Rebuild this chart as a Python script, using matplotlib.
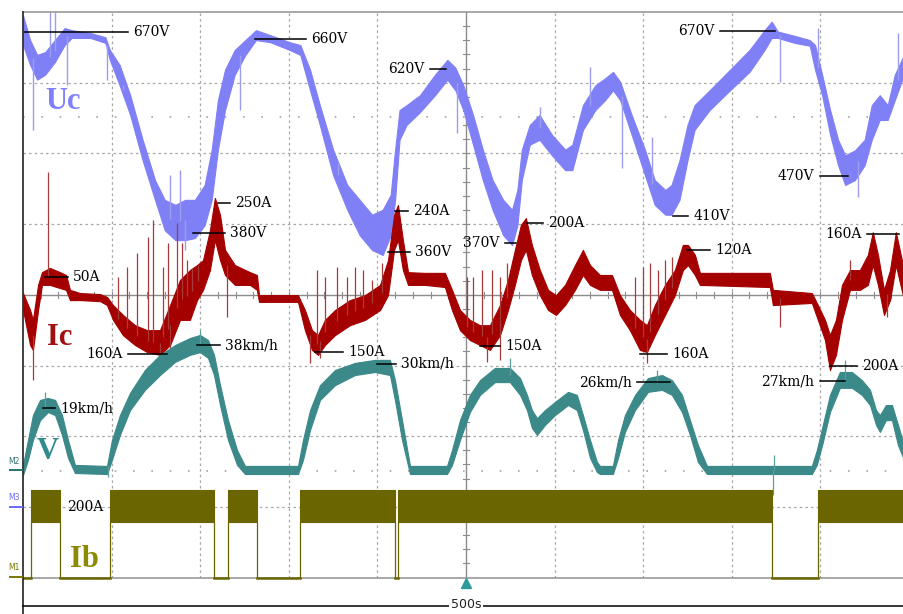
import numpy as np
import matplotlib.pyplot as plt
from matplotlib.lines import Line2D

# time base: 500 s/div
# Uc (V): band top / bottom
t_uc = [0, 40, 80, 125, 180, 235, 275, 380, 465, 490, 545, 605, 675, 745, 800, 860, 915, 970, 1025, 1065,
        1100, 1140, 1195, 1255, 1315, 1395, 1505, 1565, 1620, 1675, 1750, 1830, 1900, 1970, 2030, 2075, 2100, 2125, 2165, 2240,
        2325, 2395, 2440, 2485, 2540, 2595, 2650, 2710, 2760, 2790, 2815, 2860, 2915, 2985, 3060, 3100, 3160, 3230, 3285, 3330,
        3370, 3435, 3510, 3565, 3625, 3660, 3705, 3750, 3790, 3875, 3990, 4100, 4185, 4225, 4260, 4355, 4440, 4470, 4510, 4555,
        4600, 4640, 4695, 4750, 4790, 4835, 4880, 4920, 4972]
uc_hi = [694, 659, 638, 642, 659, 676, 673, 669, 663, 645, 624, 581, 518, 461, 433, 426, 433, 433, 454, 504,
         574, 617, 645, 659, 673, 666, 656, 652, 617, 567, 504, 454, 433, 412, 419, 440, 504, 560, 567, 581,
         610, 631, 620, 595, 553, 504, 461, 433, 419, 447, 504, 539, 553, 525, 504, 511, 567, 595, 605, 614,
         600, 553, 504, 461, 447, 454, 489, 539, 567, 588, 617, 645, 673, 685, 671, 665, 659, 652, 610, 560,
         518, 496, 503, 518, 567, 581, 567, 610, 638]
uc_lo = [652, 624, 603, 610, 628, 652, 662, 662, 655, 631, 595, 553, 489, 433, 390, 376, 376, 379, 397, 433,
         504, 560, 610, 638, 659, 656, 645, 638, 588, 539, 468, 419, 383, 362, 355, 383, 433, 518, 539, 557,
         581, 603, 588, 560, 511, 461, 419, 383, 369, 397, 461, 511, 518, 496, 475, 475, 532, 560, 574, 588,
         574, 525, 468, 426, 412, 412, 433, 489, 532, 560, 588, 614, 645, 662, 662, 655, 651, 617, 581, 525,
         482, 454, 461, 482, 518, 546, 546, 574, 610]
uc_spike_t = [56, 152, 181, 248, 474, 564, 830, 914, 886, 1225, 1778, 2449, 2917, 3200, 3380, 3550, 4272, 4486, 4712, 4938]
uc_spike_v = [532, 699, 699, 595, 603, 588, 468, 362, 475, 560, 485, 528, 564, 621, 478, 522, 600, 676, 437, 669]

# Ic (A)
t_ic = [0, 40, 56, 85, 107, 152, 209, 243, 265, 322, 435, 474, 508, 564, 632, 700, 773, 830, 886, 942,
        982, 1016, 1055, 1083, 1112, 1140, 1196, 1281, 1320, 1332, 1552, 1591, 1631, 1665, 1704, 1761, 1845, 1930, 2015, 2060,
        2094, 2116, 2144, 2173, 2269, 2381, 2421, 2466, 2522, 2579, 2635, 2692, 2737, 2776, 2810, 2838, 2872, 2917, 2963, 3008,
        3059, 3115, 3160, 3200, 3256, 3324, 3369, 3425, 3482, 3521, 3566, 3623, 3679, 3724, 3753, 3792, 3820, 4215, 4232, 4452,
        4486, 4526, 4554, 4588, 4622, 4667, 4723, 4768, 4796, 4825, 4859, 4893, 4926, 4972]
ic_hi = [13, -35, -63, 36, 72, 84, 72, 64, 22, 13, 10, 2, -21, -49, -78, -92, -92, -21, 50, 78,
         92, 106, 191, 282, 234, 135, 92, 72, 64, 7, 7, -35, -92, -106, -63, -35, -7, 7, 36, 106,
         234, 262, 163, 72, 70, 70, 22, -35, -63, -78, -78, -21, 50, 135, 206, 225, 149, 78, 22, 7,
         36, 92, 135, 92, 64, 64, 7, -35, -63, -78, -21, 36, 78, 149, 149, 121, 70, 70, 22, 13,
         -21, -63, -106, -63, 36, 78, 78, 121, 185, 121, 22, 78, 185, 78]
ic_lo = [-35, -134, -148, -35, 36, 36, 27, 22, -7, -7, -10, -21, -63, -106, -134, -154, -162, -134, -63, -63,
         -7, 22, 78, 163, 106, 64, 36, 36, 22, -12, -12, -92, -148, -162, -134, -106, -78, -63, -35, 7,
         135, 163, 78, 36, 36, 30, -35, -92, -120, -134, -148, -106, -35, 36, 106, 135, 64, 7, -35, -49,
         -21, 22, 64, 36, 22, 22, -49, -92, -148, -154, -106, -49, 7, 78, 92, 64, 36, 30, -21, -15,
         -63, -120, -205, -162, -63, 22, 22, 36, 92, 36, -49, -7, 92, -7]
ic_spike_t = [56, 141, 536, 587, 643, 705, 734, 790, 818, 869, 897, 925, 954, 988, 1151, 773, 830, 1659, 1704, 1772,
              1828, 1873, 1919, 1969, 2026, 1620, 1676, 2505, 2539, 2590, 2647, 2692, 2731, 2618, 2692, 3454, 3499, 3538, 3583, 3623,
              3662, 3521, 4272, 4667, 4876]
ic_spike_a = [-233, 355, 58, 87, 126, 171, 220, 87, 154, 211, 154, 106, 84, 92, -55, -191, -185, 78, 58, 87,
              58, 87, 78, 50, 98, -185, -171, 58, 58, 78, 78, 58, 98, -182, -177, 58, 87, 98, 78, 106,
              115, -185, -83, 106, -55]

# V (km/h)
t_v = [0, 28, 56, 96, 141, 181, 220, 254, 293, 474, 502, 547, 604, 688, 773, 858, 942, 999, 1044, 1078,
       1112, 1157, 1208, 1253, 1552, 1580, 1620, 1676, 1761, 1873, 1986, 2071, 2099, 2139, 2184, 2393, 2421, 2466, 2522, 2579,
       2663, 2748, 2805, 2844, 2872, 2901, 2946, 3002, 3076, 3126, 3160, 3200, 3239, 3256, 3329, 3358, 3397, 3454, 3527, 3606,
       3662, 3719, 3764, 3809, 3860, 4452, 4480, 4514, 4554, 4610, 4678, 4734, 4780, 4814, 4836, 4870, 4904, 4938, 4972]
v_hi = [1.8, 9.2, 16.6, 21.1, 21.7, 21.1, 16.6, 9.2, 1.8, 1.5, 9.2, 16.6, 23.2, 30.0, 34.5, 37.4, 39.5, 40.4, 38.9, 34.5,
        25.5, 15.1, 6.2, 1.5, 1.5, 9.2, 18.1, 25.5, 30.0, 32.1, 33.0, 33.0, 27.0, 15.1, 1.5, 1.5, 6.2, 15.1, 22.6, 27.0,
        30.6, 30.6, 27.6, 22.6, 18.1, 15.7, 18.1, 20.5, 23.5, 22.6, 16.6, 9.2, 2.7, 1.5, 1.5, 9.2, 16.6, 22.6, 27.6, 28.5,
        27.0, 22.6, 15.1, 7.7, 1.5, 1.5, 6.2, 13.7, 22.6, 29.4, 29.4, 27.0, 24.1, 18.1, 16.6, 19.6, 19.6, 13.7, 7.7]
v_lo = [-1.2, 3.3, 9.2, 15.1, 17.5, 16.6, 10.7, 3.9, -0.6, -0.9, 3.3, 10.7, 18.1, 24.1, 28.5, 32.4, 34.5, 35.3, 33.6, 28.5,
        19.6, 9.2, 1.8, -0.9, -0.9, 3.3, 12.2, 21.1, 25.5, 28.5, 29.4, 28.5, 21.1, 9.2, -0.9, -0.9, 1.8, 9.2, 17.5, 22.6,
        26.4, 26.4, 22.6, 18.1, 12.8, 10.7, 13.7, 16.6, 19.6, 18.1, 12.2, 3.9, -0.3, -0.9, -0.9, 3.9, 11.6, 18.1, 23.5, 24.1,
        22.6, 17.5, 10.7, 2.7, -0.9, -0.9, 1.8, 8.6, 17.5, 24.7, 24.7, 22.6, 19.6, 13.7, 11.6, 15.1, 15.1, 7.7, 3.3]
v_spike_t = [124, 999, 480, 2748, 3578, 4639, 4232, 4240]
v_spike_k = [23.5, 41.9, -1.8, 33.6, 30.0, 33.0, -7.1, 4.8]

# Ib (A): on intervals, band limits
ib_start = [45, 491, 1157, 1563, 2116, 4486]
ib_end = [209, 1078, 1320, 2099, 4227, 4972]
ib_hi = 248
ib_lo = 157

# channel scale (unit/div) and ground position (div from bottom)
UC = (100, 1.013)
IC = (200, 3.96)
VV = (21, 1.508)
IB = (200, 0.0)

UC_C = '#8080f6'
IC_C = '#a50000'
V_C = '#3b8989'
IB_C = '#6b6500'
GRID = '#a6a6a6'


def div(vals, ch):
    return np.asarray(vals, dtype=float) / ch[0] + ch[1]


fig = plt.figure(figsize=(9.04, 6.14), dpi=100)
ax = fig.add_axes([23 / 904, 36.4 / 614, 881 / 904, 565.6 / 614])
ax.set_xlim(0, 4972)
ax.set_ylim(0, 8)
ax.set_xticks([])
ax.set_yticks([])
for s in ['right', 'left']:
    ax.spines[s].set_visible(False)
for s in ['top', 'bottom']:
    ax.spines[s].set_color('#9a9a9a')
    ax.spines[s].set_linewidth(1.2)

# graticule
for k in range(1, 10):
    if k == 5:
        ax.axvline(2500, color='#8c8c8c', lw=1.0, zorder=0)
    else:
        ax.axvline(500 * k, color=GRID, lw=0.9, ls=(0, (2, 2.5)), zorder=0)
for k in range(1, 8):
    if k == 4:
        ax.axhline(4, color='#8c8c8c', lw=1.0, zorder=0)
    else:
        ax.axhline(k, color=GRID, lw=0.9, ls=(0, (2, 2.5)), zorder=0)
for yy in [6.515, 1.508]:
    ax.axhline(yy, color=GRID, lw=1.2, ls=(0, (1, 10)), zorder=0)
for d in np.arange(0.2, 8, 0.2):
    ax.plot([2483, 2517], [d, d], color='#8c8c8c', lw=0.8, zorder=0)
for tt in np.arange(100, 4972, 100):
    ax.plot([tt, tt], [3.96, 4.04], color='#8c8c8c', lw=0.8, zorder=0)

# Uc
ax.fill_between(t_uc, div(uc_lo, UC), div(uc_hi, UC), color=UC_C, lw=0.8, zorder=2)
mid = (np.array(uc_hi) + np.array(uc_lo)) / 2
ax.vlines(uc_spike_t, div(np.interp(uc_spike_t, t_uc, mid), UC), div(uc_spike_v, UC),
          color='#9d9df0', lw=1.0, zorder=2)

# Ic
ax.fill_between(t_ic, div(ic_lo, IC), div(ic_hi, IC), color=IC_C, lw=0.8, zorder=3)
mid = (np.array(ic_hi) + np.array(ic_lo)) / 2
ax.vlines(ic_spike_t, div(np.interp(ic_spike_t, t_ic, mid), IC), div(ic_spike_a, IC),
          color='#a83a3a', lw=0.9, zorder=3)

# V
ax.fill_between(t_v, div(v_lo, VV), div(v_hi, VV), color=V_C, lw=0.8, zorder=4)
mid = (np.array(v_hi) + np.array(v_lo)) / 2
ax.vlines(v_spike_t, div(np.interp(v_spike_t, t_v, mid), VV), div(v_spike_k, VV),
          color='#5a9e9e', lw=0.9, zorder=4)

# Ib
prev = 0
for a, b in zip(ib_start, ib_end):
    ax.plot([prev, a], [div(0, IB), div(0, IB)], color=IB_C, lw=1.8, zorder=5, clip_on=False)
    ax.fill_between([a, b], div(ib_lo, IB), div(ib_hi, IB), color=IB_C, lw=0.8, zorder=5)
    ax.vlines([a, b], div(0, IB), div(ib_lo, IB), color=IB_C, lw=0.9, zorder=5)
    prev = b
if prev < 4972:
    ax.plot([prev, 4972], [div(0, IB), div(0, IB)], color=IB_C, lw=1.8, zorder=5, clip_on=False)

# trace names
lab = dict(family='Liberation Serif', weight='bold', size=22, va='center', ha='left', zorder=6)
ax.text(124, 6.73, 'Uc', color='#8080ff', **lab)
ax.text(135, 3.39, 'Ic', color='#a01010', **lab)
ax.text(79, 1.78, 'V', color='#2f8c8c', **lab)
ax.text(265, 0.26, 'Ib', color='#8c8a00', **lab)

# annotations: (t1, t2, value, channel, text, side)
notes = [
    (0, 593, 670, UC, '670V', 'r'),
    (1309, 1597, 660, UC, '660V', 'r'),
    (2297, 2387, 618, UC, '620V', 'l'),
    (3933, 4244, 672, UC, '670V', 'l'),
    (4497, 4656, 467, UC, '470V', 'l'),
    (1100, 1168, 268, IC, '250A', 'r'),
    (959, 1140, 386, UC, '380V', 'r'),
    (124, 254, 58, IC, '50A', 'r'),
    (593, 813, -160, IC, '160A', 'l'),
    (982, 1112, 37.4, VV, '38km/h', 'r'),
    (2099, 2173, 245, IC, '240A', 'r'),
    (2060, 2184, 359, UC, '360V', 'r'),
    (2720, 2782, 372, UC, '370V', 'l'),
    (2844, 2934, 211, IC, '200A', 'r'),
    (1648, 1806, -154, IC, '150A', 'r'),
    (2579, 2692, -137, IC, '150A', 'r'),
    (1998, 2105, 31.8, VV, '30km/h', 'r'),
    (3668, 3752, 410, UC, '410V', 'r'),
    (3747, 3877, 135, IC, '120A', 'r'),
    (4763, 4943, 180, IC, '160A', 'l'),
    (3482, 3634, -160, IC, '160A', 'r'),
    (4554, 4706, -193, IC, '200A', 'r'),
    (4497, 4639, 26.7, VV, '27km/h', 'l'),
    (3465, 3651, 26.4, VV, '26km/h', 'l'),
    (113, 181, 18.7, VV, '19km/h', 'r'),
]
txt = dict(family='DejaVu Serif', size=10, color='black', va='center', zorder=8)
for t1, t2, val, ch, s, side in notes:
    y = div(val, ch)
    ax.plot([t1, t2], [y, y], color='black', lw=1.1, zorder=7)
    if side == 'r':
        ax.text(t2 + 30, y, s, ha='left', **txt)
    else:
        ax.text(t1 - 30, y, s, ha='right', **txt)
ax.text(248, div(200, IB), '200A', ha='left', **txt)

# trigger marker
ax.plot([2500], [-0.076], marker='^', color='#2a9a9a', ms=7, clip_on=False, zorder=8)

# left frame line and time scale bar
fx = 23 / 904
fig.add_artist(Line2D([fx, fx], [0, 1 - 12 / 614], color='#333333', lw=1.3))
fig.add_artist(Line2D([fx, 1], [1 - 606 / 614] * 2, color='black', lw=1.1))
fig.text(466 / 904, 1 - 605 / 614, '500s', ha='center', va='center', size=9,
         family='DejaVu Sans', color='#222222',
         bbox=dict(facecolor='white', edgecolor='none', pad=1.5))

# ground markers
for name, yp, c in [('M2', 470, '#2b7070'), ('M3', 507, '#6a6aff'), ('M1', 577, '#7a7600')]:
    fig.add_artist(Line2D([10 / 904, 22 / 904], [1 - yp / 614] * 2, color=c, lw=1.4))
    fig.text(8 / 904, 1 - (yp - 9) / 614, name, ha='left', va='center', size=5.5, color=c)

fig.savefig('out.png', dpi=100, facecolor='white')
